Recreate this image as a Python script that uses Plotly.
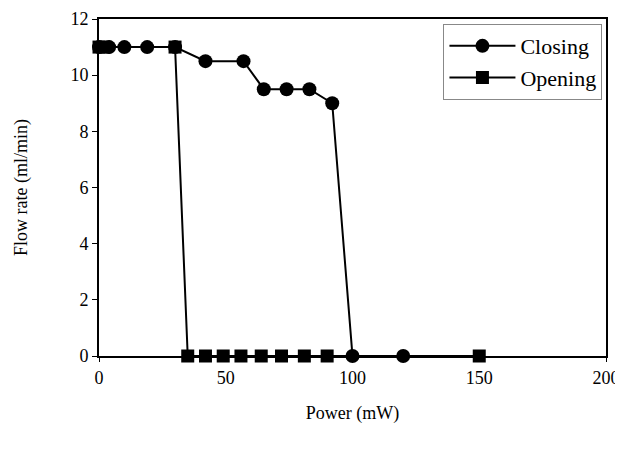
import plotly.graph_objects as go

closing_x = [0, 4, 10, 19, 30, 42, 57, 65, 74, 83, 92, 100, 120]
closing_y = [11, 11, 11, 11, 11, 10.5, 10.5, 9.5, 9.5, 9.5, 9, 0, 0]
opening_x = [0, 2, 30, 35, 42, 49, 56, 64, 72, 81, 90, 150]
opening_y = [11, 11, 11, 0, 0, 0, 0, 0, 0, 0, 0, 0]
x_ticks = [0, 50, 100, 150, 200]
y_ticks = [0, 2, 4, 6, 8, 10, 12]

font = "Liberation Serif, Times New Roman, serif"
fig = go.Figure()
fig.add_trace(go.Scatter(x=closing_x, y=closing_y, name="Closing", mode="lines+markers",
                         cliponaxis=False,
                         line=dict(color="black", width=2),
                         marker=dict(symbol="circle", size=14, color="black")))
fig.add_trace(go.Scatter(x=opening_x, y=opening_y, name="Opening", mode="lines+markers",
                         cliponaxis=False,
                         line=dict(color="black", width=2),
                         marker=dict(symbol="square", size=13, color="black")))
fig.update_layout(
    width=615, height=446, plot_bgcolor="white", paper_bgcolor="white",
    margin=dict(l=91, r=17, t=11, b=98),
    font=dict(family=font, size=18, color="black"),
    showlegend=True,
    legend=dict(x=0.993, y=0.985, xanchor="right", yanchor="top",
                bgcolor="white", bordercolor="#888", borderwidth=1,
                font=dict(family=font, size=22), itemwidth=66, tracegroupgap=0),
    xaxis=dict(range=[0, 200], tickvals=x_ticks, showgrid=False, zeroline=False,
               showline=True, linecolor="black", linewidth=2, mirror=True,
               ticks="outside", ticklen=4, tickcolor="black", automargin=False,
               tickfont=dict(family=font, size=18),
               title=dict(text="Power (mW)", font=dict(family=font, size=18), standoff=20)),
    yaxis=dict(range=[0, 12], tickvals=y_ticks, showgrid=False, zeroline=False,
               showline=True, linecolor="black", linewidth=2, mirror=True,
               ticks="outside", ticklen=5, tickcolor="black", automargin=False,
               tickfont=dict(family=font, size=18),
               title=dict(text="Flow rate (ml/min)", font=dict(family=font, size=18), standoff=38)),
)
fig.write_html("out.html")
